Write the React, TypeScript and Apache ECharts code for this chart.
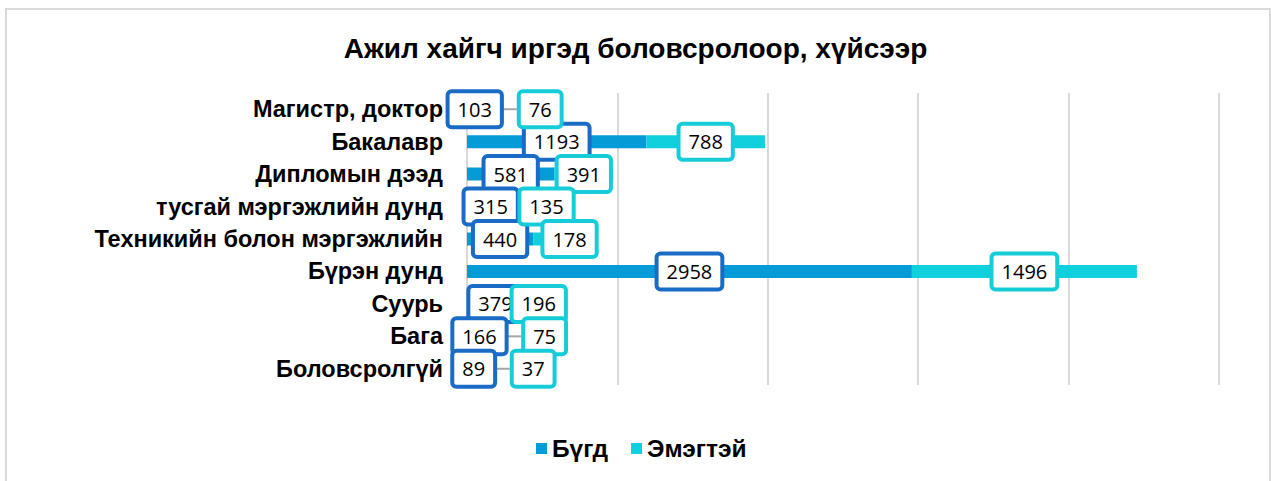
import React, { useEffect, useRef } from "react";
import * as echarts from "echarts";

const categories = [
  "Магистр, доктор",
  "Бакалавр",
  "Дипломын дээд",
  "тусгай мэргэжлийн дунд",
  "Техникийн болон мэргэжлийн",
  "Бүрэн дунд",
  "Суурь",
  "Бага",
  "Боловсролгүй",
];
const totalValues = [103, 1193, 581, 315, 440, 2958, 379, 166, 89];
const femaleValues = [76, 788, 391, 135, 178, 1496, 196, 75, 37];
const seriesNames = ["Бүгд", "Эмэгтэй"];
const titleText = "Ажил хайгч иргэд боловсролоор, хүйсээр";

// horizontal label shift (px) for small female segments, like Excel's moved labels
const femaleLabelShift: Record<number, number> = { 0: 52, 3: 22, 4: 23, 7: 47, 8: 50 };

export default function App() {
  const ref = useRef<HTMLDivElement>(null);
  useEffect(() => {
    if (!ref.current) return;
    const chart = echarts.init(ref.current, undefined, { renderer: "svg" });
    const labelBase = {
      show: true,
      position: "inside" as const,
      formatter: "{c}",
      color: "#000",
      fontSize: 20,
      fontFamily: "Open Sans",
      backgroundColor: "#fff",
      borderWidth: 4,
      borderRadius: 2,
      padding: [4, 8, 4, 8],
      lineHeight: 24,
    };
    chart.setOption({
      animation: false,
      backgroundColor: "#fff",
      title: {
        text: titleText,
        left: "center",
        top: 29,
        textStyle: {
          fontSize: 28,
          fontWeight: "bold",
          fontFamily: "Liberation Sans",
          color: "#000",
        },
      },
      graphic: [
        {
          type: "rect",
          shape: { x: 6, y: 9, width: 1264, height: 490 },
          style: { fill: "none", stroke: "#d9d9d9", lineWidth: 2 },
          silent: true,
        },
      ],
      legend: {
        data: seriesNames,
        left: 536,
        top: 436,
        padding: 0,
        icon: "rect",
        itemWidth: 11,
        itemHeight: 11,
        itemGap: 23,
        itemTextGap: 6,
        textStyle: {
          fontSize: 24.5,
          fontWeight: "bold",
          fontFamily: "Liberation Sans",
          color: "#000",
        },
      },
      grid: { left: 467, right: 52, top: 93, height: 292, containLabel: false },
      xAxis: {
        type: "value",
        min: 0,
        max: 5000,
        interval: 1000,
        axisLabel: { show: false },
        axisLine: { show: false },
        axisTick: { show: false },
        splitLine: { lineStyle: { color: "#d9d9d9", width: 2 } },
      },
      yAxis: {
        type: "category",
        inverse: true,
        data: categories,
        axisLine: { show: false },
        axisTick: { show: false },
        axisLabel: {
          margin: 24,
          fontSize: 23.5,
          fontWeight: "bold",
          fontFamily: "Liberation Sans",
          color: "#000",
        },
      },
      series: [
        {
          name: seriesNames[0],
          type: "bar",
          stack: "s",
          barWidth: 13,
          data: totalValues,
          itemStyle: { color: "#049bd6" },
          label: { ...labelBase, borderColor: "#1a6bc6" },
        },
        {
          name: seriesNames[1],
          type: "bar",
          stack: "s",
          barWidth: 13,
          data: femaleValues,
          itemStyle: { color: "#0fd0dc" },
          label: { ...labelBase, borderColor: "#16ccd8" },
          labelLine: { show: true, lineStyle: { color: "#a6a6a6", width: 2 } },
          labelLayout: (params: any) =>
            femaleLabelShift[params.dataIndex] ? { dx: femaleLabelShift[params.dataIndex] } : {},
        },
      ],
    });
    return () => chart.dispose();
  }, []);
  return (
    <div
      ref={ref}
      style={{ position: "absolute", left: 0, top: 0, width: 1271, height: 481 }}
    />
  );
}
